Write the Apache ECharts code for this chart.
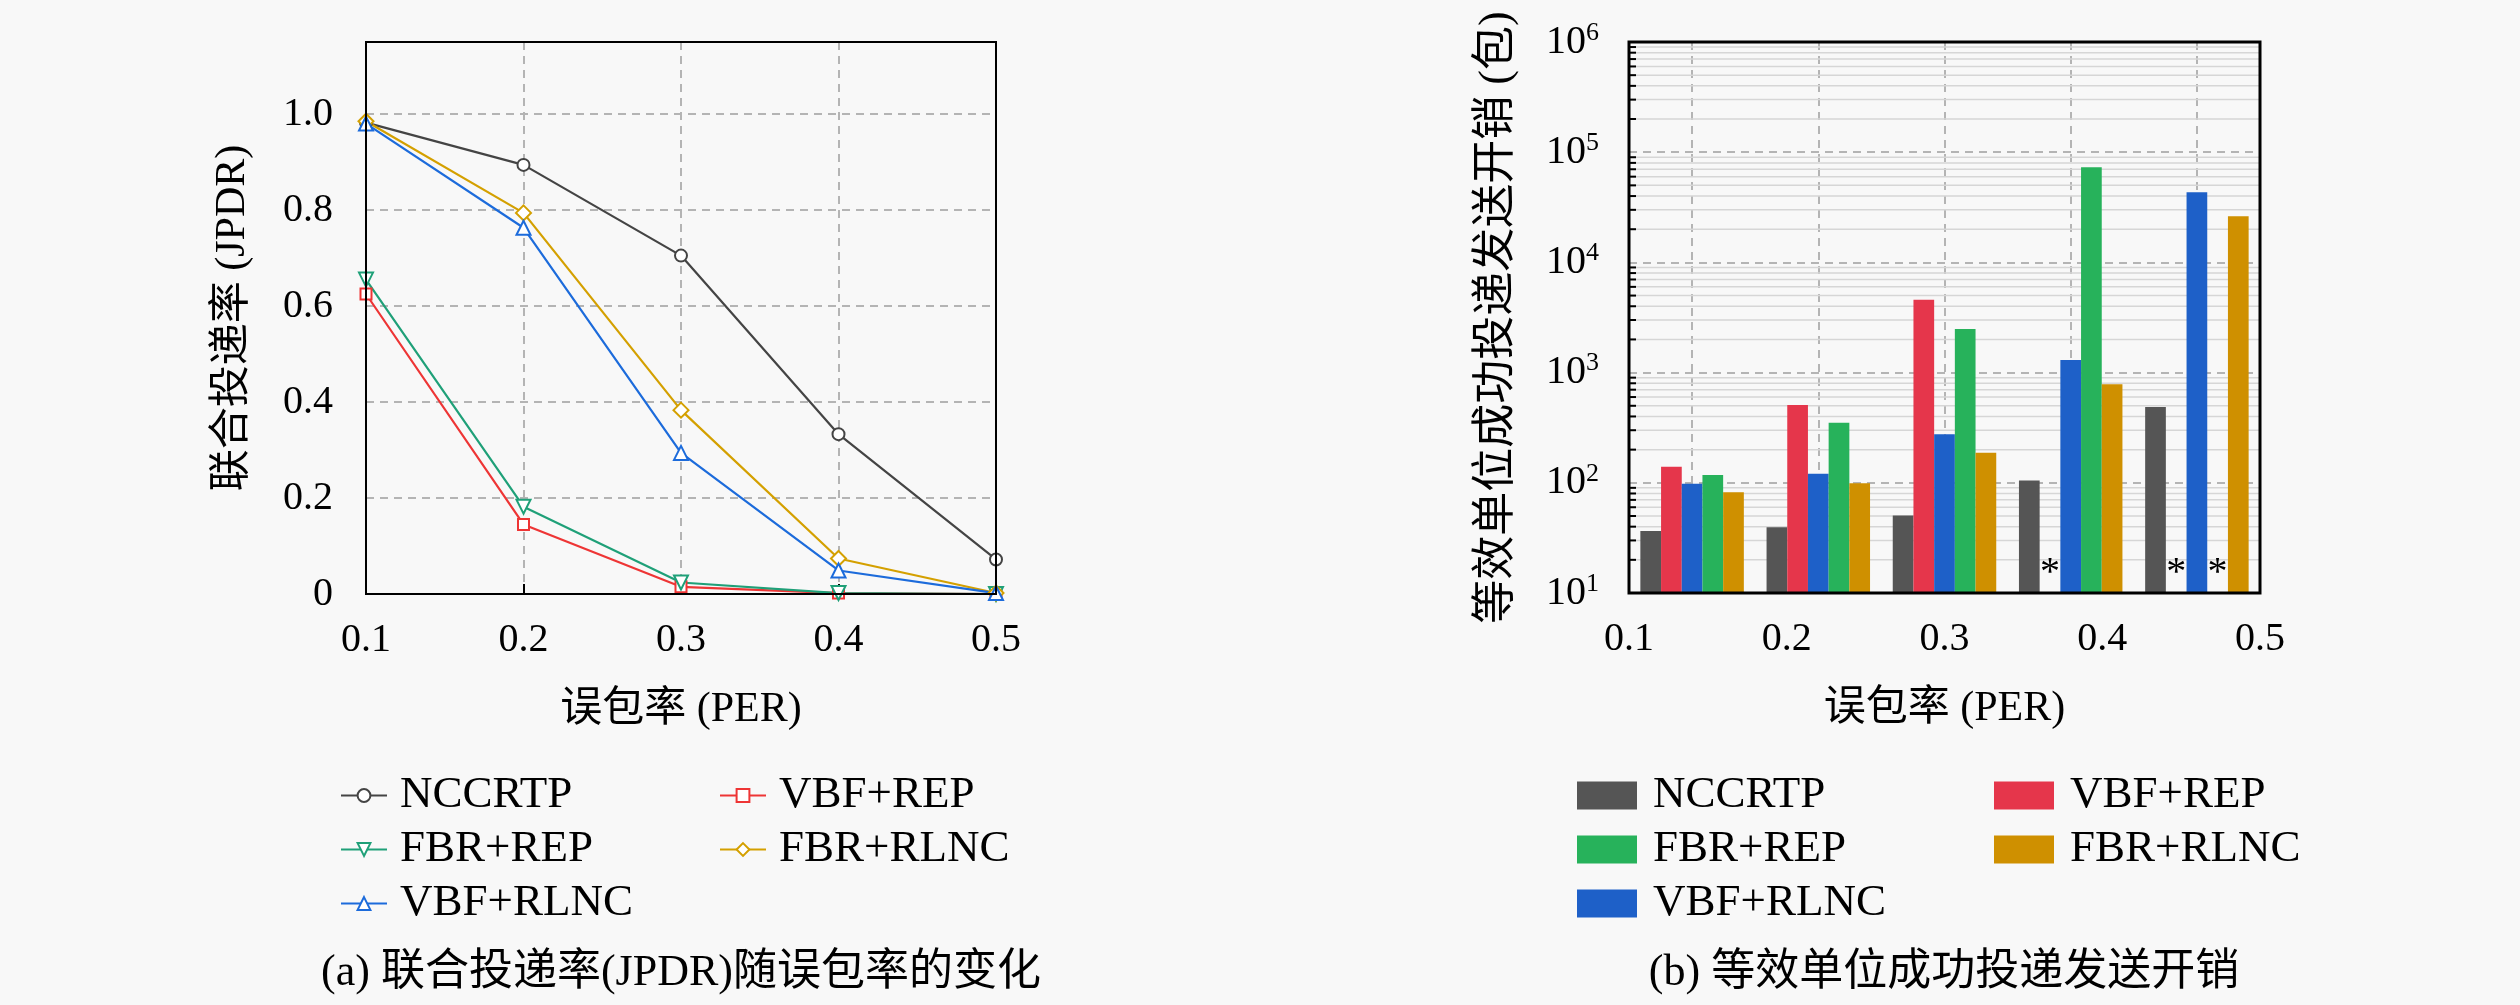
<!DOCTYPE html>
<html>
<head>
<meta charset="utf-8">
<script src="https://cdn.jsdelivr.net/npm/echarts@6/dist/echarts.min.js"></script>
<style>
html, body { margin: 0; padding: 0; background: #f8f8f8; }
#left, #right { position: absolute; top: 0; width: 1260px; height: 1005px; }
#left { left: 0; }
#right { left: 1260px; }
</style>
</head>
<body>
<div id="left"></div>
<div id="right"></div>
<script>
// 误包率 (PER)
var perLabels = ['0.1', '0.2', '0.3', '0.4', '0.5'];

// (a) 联合投递率 JPDR
var jpdrNCCRTP  = [0.982, 0.894, 0.705, 0.333, 0.072];
var jpdrVbfRep  = [0.625, 0.145, 0.015, 0.002, 0.0];
var jpdrFbrRep  = [0.655, 0.182, 0.024, 0.002, 0.0];
var jpdrFbrRlnc = [0.985, 0.794, 0.383, 0.074, 0.002];
var jpdrVbfRlnc = [0.980, 0.763, 0.294, 0.049, 0.002];

// (b) 等效单位成功投递发送开销 (包), null = 无数据 (图中标 *)
var costNCCRTP  = [36.5, 39.5, 50.5, 105, 487];
var costVbfRep  = [140, 507, 4590, null, null];
var costVbfRlnc = [98, 121, 276, 1300, 43300];
var costFbrRep  = [118, 350, 2490, 73100, null];
var costFbrRlnc = [82, 99, 187, 785, 26200];

var FONT = '"Liberation Serif", "Noto Sans CJK SC", serif';
var BG = '#f8f8f8';
var GRID_DASH = { type: [8, 6], color: '#b4b4b4', width: 2 };
var NAME_STYLE = { fontSize: 42, color: '#000', fontFamily: FONT };

// 坐标框画在网格线之上
function frame(g, w) {
  return {
    type: 'rect', z: 100, silent: true,
    shape: { x: g.left, y: g.top, width: g.width, height: g.height },
    style: { fill: null, stroke: '#000', lineWidth: w }
  };
}

// ---------- (a) ----------
var chartA = echarts.init(document.getElementById('left'));
var gridA = { left: 366, top: 42, width: 630, height: 552 };

function lineSeries(name, data, color, symbol, size, rotate) {
  return {
    name: name, type: 'line', data: data,
    symbol: symbol, symbolSize: size, symbolRotate: rotate || 0,
    color: color,
    lineStyle: { color: color, width: 2.2 },
    itemStyle: { color: color, borderColor: color, borderWidth: 2.2 }
  };
}

function legendA(items, x) {
  return {
    data: items, orient: 'vertical', left: x, top: 768,
    itemWidth: 46, itemHeight: 16, itemGap: 9,
    textStyle: { fontSize: 45, lineHeight: 40, color: '#000', fontFamily: FONT, padding: [0, 0, 0, 8] }
  };
}

chartA.setOption({
  animation: false,
  backgroundColor: BG,
  grid: gridA,
  xAxis: {
    type: 'category', data: perLabels, boundaryGap: false,
    axisLine: { show: false },
    axisTick: { inside: true, length: 10, lineStyle: { color: '#000', width: 2 } },
    axisLabel: { fontSize: 40, color: '#000', fontFamily: FONT, margin: 26 },
    splitLine: { show: true, lineStyle: GRID_DASH },
    name: '误包率 (PER)', nameLocation: 'middle', nameGap: 95, nameTextStyle: NAME_STYLE
  },
  yAxis: {
    type: 'value', min: 0, max: 1.15, interval: 0.2,
    axisLine: { show: false },
    axisTick: { inside: true, length: 10, lineStyle: { color: '#000', width: 2 } },
    axisLabel: {
      fontSize: 40, color: '#000', fontFamily: FONT, margin: 33,
      formatter: function (v) {
        if (Math.abs(v * 5 - Math.round(v * 5)) > 1e-6) return '';
        return v === 0 ? '0' : v.toFixed(1);
      }
    },
    splitLine: { show: true, lineStyle: GRID_DASH },
    name: '联合投递率 (JPDR)', nameLocation: 'middle', nameGap: 112, nameTextStyle: NAME_STYLE
  },
  legend: [
    legendA(['NCCRTP', 'FBR+REP', 'VBF+RLNC'], 335),
    legendA(['VBF+REP', 'FBR+RLNC'], 714)
  ],
  series: [
    lineSeries('NCCRTP', jpdrNCCRTP, '#444444', 'emptyCircle', 12),
    lineSeries('VBF+REP', jpdrVbfRep, '#ee3535', 'emptyRect', 11),
    lineSeries('FBR+REP', jpdrFbrRep, '#1fa078', 'emptyTriangle', 14, 180),
    lineSeries('FBR+RLNC', jpdrFbrRlnc, '#d4a000', 'emptyDiamond', 15),
    lineSeries('VBF+RLNC', jpdrVbfRlnc, '#1c6bdb', 'emptyTriangle', 14)
  ],
  graphic: [frame(gridA, 2), {
    type: 'text', x: 681, y: 973,
    style: { text: '(a) 联合投递率(JPDR)随误包率的变化', font: '44px ' + FONT, fill: '#000', textAlign: 'center', textVerticalAlign: 'middle' }
  }]
});

// ---------- (b) ----------
var chartB = echarts.init(document.getElementById('right'));
var gridB = { left: 369, top: 42, width: 631, height: 551 };

// 次刻度位置 2..9 x 10^k
var minorTicks = [];
for (var e = 1; e < 6; e++) {
  for (var m = 2; m < 10; m++) minorTicks.push([0, m * Math.pow(10, e)]);
}

function barSeries(name, data, color) {
  return {
    name: name, type: 'bar', xAxisIndex: 0, yAxisIndex: 0,
    barGap: '0%', barCategoryGap: '18%', z: 3,
    itemStyle: { color: color },
    data: data.map(function (v) {
      if (v !== null) return v;
      return {
        value: 10, itemStyle: { color: 'rgba(0,0,0,0)' },
        label: { show: true, position: 'insideBottom', distance: 0, formatter: '*', fontSize: 40, color: '#000', fontFamily: FONT }
      };
    })
  };
}

function legendB(items, x) {
  return {
    data: items, orient: 'vertical', left: x, top: 768, icon: 'rect',
    itemWidth: 60, itemHeight: 28, itemGap: 9,
    textStyle: { fontSize: 45, lineHeight: 40, color: '#000', fontFamily: FONT, padding: [0, 0, 0, 11] }
  };
}

chartB.setOption({
  animation: false,
  backgroundColor: BG,
  grid: gridB,
  xAxis: [{
    type: 'category', data: perLabels, boundaryGap: true, position: 'bottom',
    axisLine: { show: false }, axisTick: { show: false }, axisLabel: { show: false },
    splitLine: { show: true, alignWithLabel: true, lineStyle: GRID_DASH }
  }, {
    type: 'category', data: perLabels, boundaryGap: false, position: 'bottom',
    axisLine: { show: false }, axisTick: { show: false }, splitLine: { show: false },
    axisLabel: { fontSize: 40, color: '#000', fontFamily: FONT, margin: 26 },
    name: '误包率 (PER)', nameLocation: 'middle', nameGap: 95, nameTextStyle: NAME_STYLE
  }],
  yAxis: {
    type: 'log', logBase: 10, min: 10, max: 1000000,
    axisLine: { show: false },
    axisTick: { inside: true, length: 12, lineStyle: { color: '#000', width: 2 } },
    axisLabel: {
      margin: 30, color: '#000',
      formatter: function (v) {
        var ex = Math.round(Math.log(v) / Math.LN10);
        return '{b|10}{s|' + ex + '}';
      },
      rich: {
        b: { fontSize: 40, fontFamily: FONT, color: '#000' },
        s: { fontSize: 26, fontFamily: FONT, color: '#000', padding: [0, 0, 18, 0] }
      }
    },
    splitLine: { show: true, lineStyle: GRID_DASH },
    name: '等效单位成功投递发送开销 (包)', nameLocation: 'middle', nameGap: 110,
    nameTextStyle: { fontSize: 44, color: '#000', fontFamily: FONT }
  },
  legend: [
    legendB(['NCCRTP', 'FBR+REP', 'VBF+RLNC'], 312),
    legendB(['VBF+REP', 'FBR+RLNC'], 729)
  ],
  series: [
    {
      type: 'custom', xAxisIndex: 0, yAxisIndex: 0, silent: true, z: 1,
      data: minorTicks,
      renderItem: function (params, api) {
        var y = api.coord([0, api.value(1)])[1];
        var cs = params.coordSys;
        return {
          type: 'group', children: [
            { type: 'line', shape: { x1: cs.x, y1: y, x2: cs.x + cs.width, y2: y }, style: { stroke: '#d6d6d6', lineWidth: 1.5 } },
            { type: 'line', shape: { x1: cs.x, y1: y, x2: cs.x + 7, y2: y }, style: { stroke: '#000', lineWidth: 2 } }
          ]
        };
      }
    },
    barSeries('NCCRTP', costNCCRTP, '#555555'),
    barSeries('VBF+REP', costVbfRep, '#e5364b'),
    barSeries('VBF+RLNC', costVbfRlnc, '#1e60c8'),
    barSeries('FBR+REP', costFbrRep, '#27b25b'),
    barSeries('FBR+RLNC', costFbrRlnc, '#cf9000')
  ],
  graphic: [frame(gridB, 3), {
    type: 'text', x: 684, y: 973,
    style: { text: '(b) 等效单位成功投递发送开销', font: '44px ' + FONT, fill: '#000', textAlign: 'center', textVerticalAlign: 'middle' }
  }]
});
</script>
</body>
</html>
